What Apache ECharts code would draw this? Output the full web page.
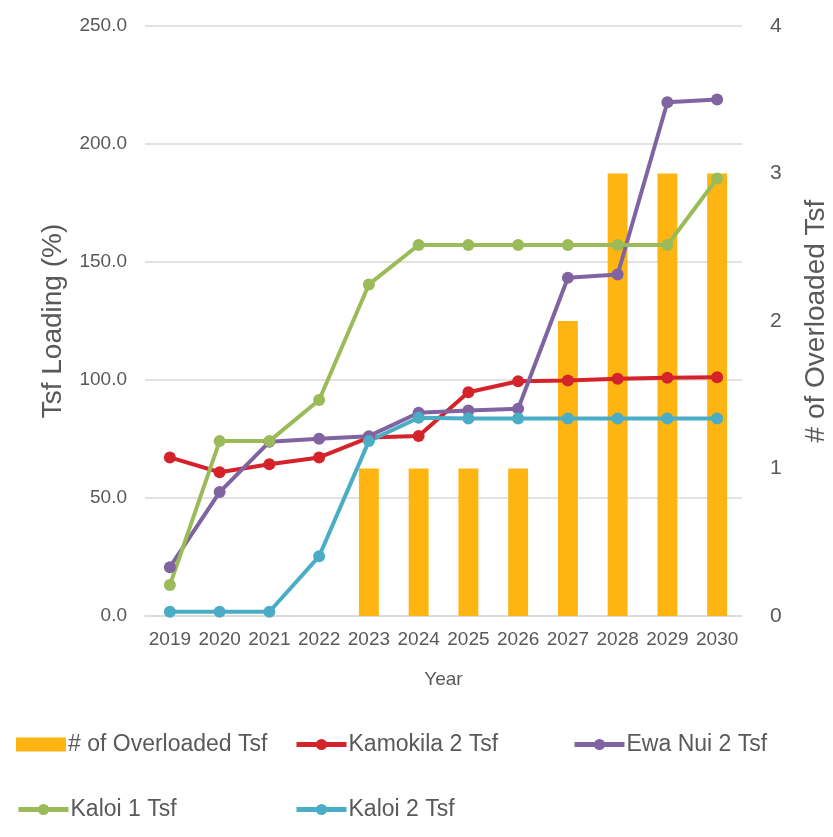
<!DOCTYPE html>
<html>
<head>
<meta charset="utf-8">
<script src="https://cdn.jsdelivr.net/npm/echarts@6/dist/echarts.min.js"></script>
<style>
  html, body { margin: 0; padding: 0; background: #fff; }
  #chart { width: 833px; height: 837px; }
</style>
</head>
<body>
<div id="chart"></div>
<script>
// years on the x axis
const years = ['2019', '2020', '2021', '2022', '2023', '2024', '2025', '2026', '2027', '2028', '2029', '2030'];

// # of overloaded transformers (right axis)
const overloaded = [0, 0, 0, 0, 1, 1, 1, 1, 2, 3, 3, 3];

// transformer loading in % (left axis)
const kamokila2 = [67.2, 60.9, 64.3, 67.2, 75.6, 76.3, 94.8, 99.5, 99.8, 100.5, 101.0, 101.2];
const ewaNui2 = [20.7, 52.5, 73.8, 75.1, 76.2, 86.1, 87.1, 87.8, 143.3, 144.7, 217.7, 218.9];
const kaloi1 = [13.1, 74.1, 74.1, 91.5, 140.5, 157.2, 157.2, 157.2, 157.2, 157.2, 157.2, 185.4];
const kaloi2 = [1.8, 1.8, 1.8, 25.3, 74.1, 84.0, 83.7, 83.7, 83.7, 83.7, 83.7, 83.7];

const FONT = 'Liberation Sans';
const GREY = '#595959';

const chart = echarts.init(document.getElementById('chart'));

function lineSeries(name, data, color) {
  return {
    name: name,
    type: 'line',
    yAxisIndex: 0,
    data: data,
    symbol: 'circle',
    symbolSize: 12,
    lineStyle: { width: 4, color: color },
    itemStyle: { color: color },
    emphasis: { disabled: true }
  };
}

// one legend per slot, so the items sit in the same columns as the original
function legendAt(name, left, top, icon) {
  return {
    data: [{ name: name, icon: icon }],
    left: left,
    top: top,
    itemWidth: 50,
    itemHeight: 14,
    itemGap: 5,
    lineStyle: { width: 5 },
    textStyle: { fontFamily: FONT, fontSize: 23, color: GREY, padding: [0, 0, 0, -3] },
    selectedMode: false
  };
}

chart.setOption({
  animation: false,
  textStyle: { fontFamily: FONT },
  grid: { left: 145, right: 91, top: 26, bottom: 221, containLabel: false, outerBoundsMode: 'none' },
  legend: [
    legendAt('# of Overloaded Tsf', 11, 728, 'rect'),
    legendAt('Kamokila 2 Tsf', 289, 728),
    legendAt('Ewa Nui 2 Tsf', 567, 728),
    legendAt('Kaloi 1 Tsf', 11, 793),
    legendAt('Kaloi 2 Tsf', 289, 793)
  ],
  xAxis: {
    type: 'category',
    data: years,
    name: 'Year',
    nameLocation: 'middle',
    nameGap: 54,
    nameTextStyle: { fontFamily: FONT, fontSize: 19, color: GREY },
    axisLine: { lineStyle: { color: '#D9D9D9', width: 1.5 } },
    axisTick: { show: false },
    axisLabel: { interval: 0, margin: 14, fontFamily: FONT, fontSize: 19, color: GREY }
  },
  yAxis: [
    {
      type: 'value',
      min: 0,
      max: 250,
      interval: 50,
      name: 'Tsf Loading (%)',
      nameLocation: 'middle',
      nameGap: 78,
      nameTextStyle: { fontFamily: FONT, fontSize: 28, color: GREY },
      axisLine: { show: false },
      axisTick: { show: false },
      axisLabel: {
        margin: 18,
        fontFamily: FONT,
        fontSize: 19,
        color: GREY,
        formatter: function (v) { return v.toFixed(1); }
      },
      splitLine: { lineStyle: { color: '#D9D9D9', width: 1.5 } }
    },
    {
      type: 'value',
      min: 0,
      max: 4,
      interval: 1,
      position: 'right',
      name: '# of Overloaded Tsf',
      nameLocation: 'middle',
      nameGap: 60,
      nameTextStyle: { fontFamily: FONT, fontSize: 28, color: GREY },
      axisLine: { show: false },
      axisTick: { show: false },
      axisLabel: { margin: 28, fontFamily: FONT, fontSize: 21, color: GREY },
      splitLine: { show: false }
    }
  ],
  series: [
    {
      name: '# of Overloaded Tsf',
      type: 'bar',
      yAxisIndex: 1,
      data: overloaded,
      barWidth: '40%',
      itemStyle: { color: '#FFB511' },
      emphasis: { disabled: true }
    },
    lineSeries('Kamokila 2 Tsf', kamokila2, '#D4232B'),
    lineSeries('Ewa Nui 2 Tsf', ewaNui2, '#8064A2'),
    lineSeries('Kaloi 1 Tsf', kaloi1, '#9BBB59'),
    lineSeries('Kaloi 2 Tsf', kaloi2, '#4BACC6')
  ]
});
</script>
</body>
</html>
